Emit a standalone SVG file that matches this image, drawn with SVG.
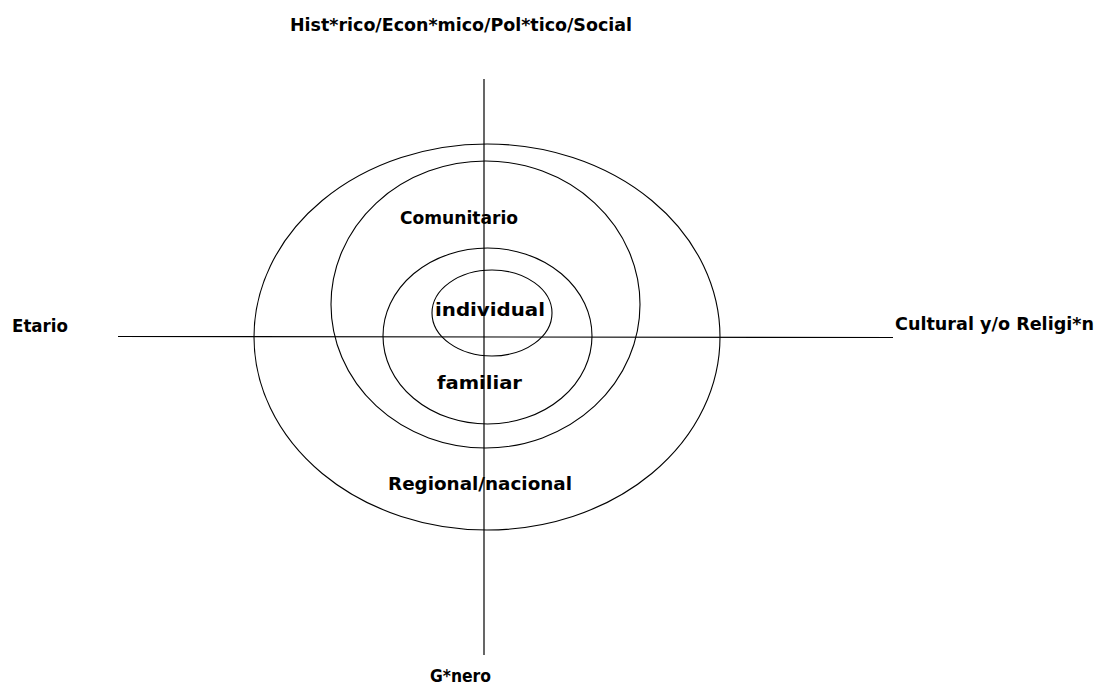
<svg xmlns="http://www.w3.org/2000/svg" width="1101" height="689" viewBox="0 0 1101 689">
<style>
.ln{stroke:#000;stroke-width:1.2;fill:none}
.el{stroke:#000;stroke-width:1.1;fill:none}
.t{font-family:"DejaVu Sans","Liberation Sans",sans-serif;font-size:18px;fill:#000;font-weight:bold}
</style>
<rect width="1101" height="689" fill="#fff"/>
<g id="connectors">
<line class="ln" x1="484" y1="79" x2="484" y2="655"/>
<line class="ln" x1="118" y1="336.5" x2="893" y2="337.5"/>
</g>
<g id="regional">
<ellipse class="el" cx="487" cy="337" rx="233" ry="193"/>
<text class="t" x="388" y="490" textLength="184" lengthAdjust="spacingAndGlyphs">Regional/nacional</text>
</g>
<g id="comunitario">
<ellipse class="el" cx="485.5" cy="304.5" rx="154.5" ry="143.5"/>
<text class="t" x="400" y="224" textLength="118" lengthAdjust="spacingAndGlyphs">Comunitario</text>
</g>
<g id="familiar">
<ellipse class="el" cx="487.5" cy="336" rx="104.5" ry="88"/>
<text class="t" x="437" y="389" textLength="85" lengthAdjust="spacingAndGlyphs">familiar</text>
</g>
<g id="individual">
<ellipse class="el" cx="492" cy="313" rx="60" ry="43"/>
<text class="t" x="435" y="316" textLength="110" lengthAdjust="spacingAndGlyphs">individual</text>
</g>
<g id="axis-top">
<text class="t" x="290" y="31" textLength="342" lengthAdjust="spacingAndGlyphs">Hist*rico/Econ*mico/Pol*tico/Social</text>
</g>
<g id="axis-left">
<text class="t" x="12" y="332" textLength="56" lengthAdjust="spacingAndGlyphs">Etario</text>
</g>
<g id="axis-right">
<text class="t" x="895" y="330" textLength="199" lengthAdjust="spacingAndGlyphs">Cultural y/o Religi*n</text>
</g>
<g id="axis-bottom">
<text class="t" x="430" y="682" textLength="61" lengthAdjust="spacingAndGlyphs">G*nero</text>
</g>
</svg>
